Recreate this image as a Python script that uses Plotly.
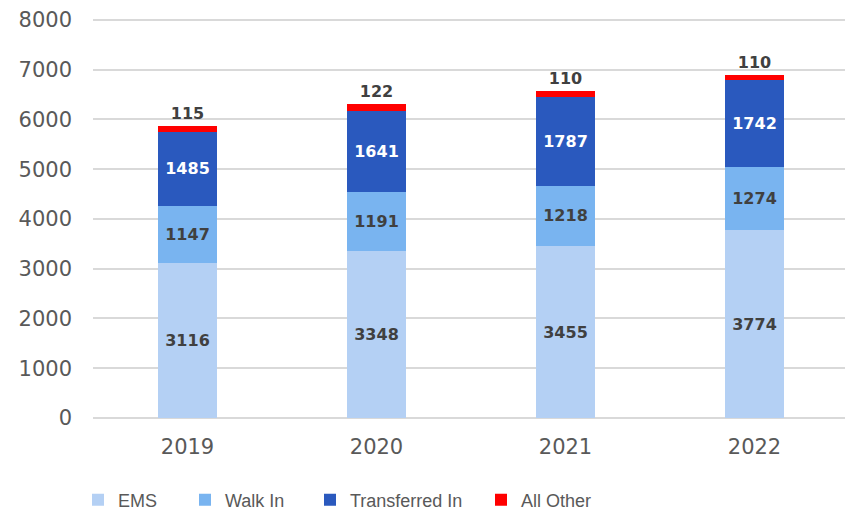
import plotly.graph_objects as go

years = ["2019", "2020", "2021", "2022"]
ems = [3116, 3348, 3455, 3774]
walk_in = [1147, 1191, 1218, 1274]
transferred_in = [1485, 1641, 1787, 1742]
all_other = [115, 122, 110, 110]
y_ticks = [0, 1000, 2000, 3000, 4000, 5000, 6000, 7000, 8000]

series = [
    ("EMS", ems, "#B4D0F4", "#404040", "inside", "legend"),
    ("Walk In", walk_in, "#79B4F0", "#404040", "inside", "legend2"),
    ("Transferred In", transferred_in, "#2A59BE", "#FFFFFF", "inside", "legend3"),
    ("All Other", all_other, "#FF0000", "#404040", "outside", "legend4"),
]

# page body has an 8px margin; compensate so content lands where the reference has it
OFF = 8
W, H = 853 - OFF, 510 - OFF
Y_TOP = 8100  # slight headroom so the 8000 gridline is drawn inside the plot area
px_per_unit = (418 - 20) / 8000
top_px = 418 - Y_TOP * px_per_unit

fig = go.Figure()
for name, vals, color, tcolor, tpos, leg in series:
    fig.add_trace(go.Bar(
        x=years, y=vals, name=name, marker_color=color, marker_line_width=0,
        text=[str(v) for v in vals], textposition=tpos, insidetextanchor="middle",
        textangle=0, cliponaxis=False, showlegend=True,
        textfont=dict(family="DejaVu Sans", size=16, color=tcolor, weight="bold"),
        legend=leg,
    ))

legend_font = dict(family="Liberation Sans", size=18, color="#595959")
def leg(px):
    return dict(x=(px - OFF) / W, y=(510 - 500) / H, xref="container", yref="container",
                xanchor="left", yanchor="middle", orientation="h", font=legend_font,
                bgcolor="rgba(0,0,0,0)", itemwidth=30)

fig.update_layout(
    barmode="stack",
    bargap=0.683,
    width=W, height=H,
    margin=dict(l=93 - OFF, r=W - (849 - OFF), t=round(top_px) - OFF, b=H - (418 - OFF), autoexpand=False),
    paper_bgcolor="white", plot_bgcolor="white",
    showlegend=True,
    font=dict(family="DejaVu Sans", color="#595959"),
    legend=leg(90 - 12), legend2=leg(197 - 12), legend3=leg(322 - 12), legend4=leg(493 - 12),
)
fig.update_yaxes(range=[0, Y_TOP], tickvals=y_ticks,
                 showgrid=True, gridcolor="#D9D9D9", gridwidth=1.5,
                 zeroline=True, zerolinecolor="#D9D9D9", zerolinewidth=1.5,
                 showline=False, ticks="", ticklabelstandoff=20, automargin=False,
                 tickfont=dict(family="DejaVu Sans", size=21, color="#595959"))
fig.update_xaxes(showline=False, ticks="", ticklabelstandoff=14, automargin=False,
                 tickfont=dict(family="DejaVu Sans", size=21, color="#595959"))

fig.write_html("out.html")
